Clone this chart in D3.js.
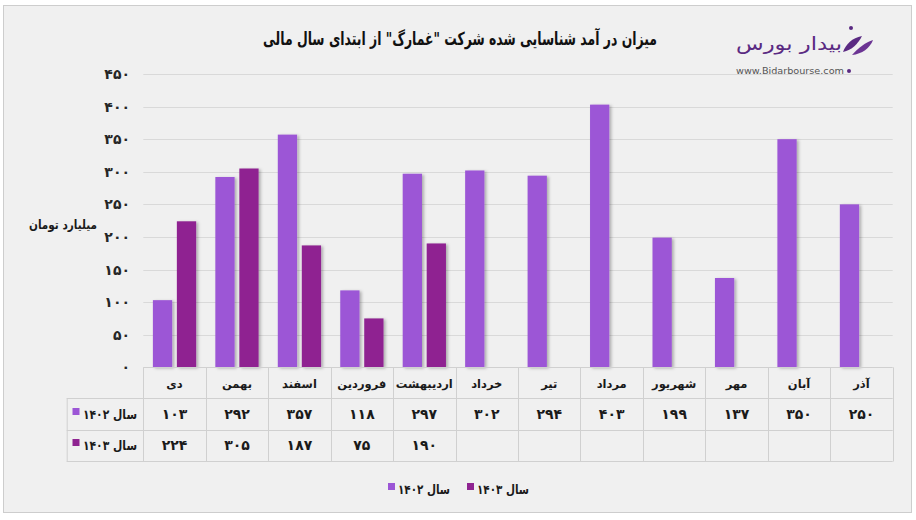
<!DOCTYPE html>
<html><head><meta charset="utf-8">
<script src="https://cdn.jsdelivr.net/npm/d3@7"></script>
<style>
html,body{margin:0;padding:0;background:#fff;}
text{font-family:"DejaVu Sans",sans-serif;font-weight:bold;}
</style></head>
<body>
<svg id="c" width="916" height="520"></svg>
<script>
const months = ["دی","بهمن","اسفند","فروردین","اردیبهشت","خرداد","تیر","مرداد","شهریور","مهر","آبان","آذر"];
const series = ["سال ۱۴۰۲","سال ۱۴۰۳"];
const values1402 = [103,292,357,118,297,302,294,403,199,137,350,250];
const values1403 = [224,305,187,75,190,null,null,null,null,null,null,null];
const yTicks = [0,50,100,150,200,250,300,350,400,450];
const colors = ["#9c56d6","#8f2491"];
const title = "میزان در آمد شناسایی شده شرکت \"غمارگ\" از ابتدای سال مالی";
const yLabel = "میلیارد تومان";

const fa = n => String(n).replace(/[0-9]/g, d => "۰۱۲۳۴۵۶۷۸۹"[d]);

const svg = d3.select("#c");
const defs = svg.append("defs");
const f = defs.append("filter").attr("id","sh").attr("x","-20%").attr("y","-5%").attr("width","150%").attr("height","115%");
f.append("feDropShadow").attr("dx",2).attr("dy",1).attr("stdDeviation",1.5).attr("flood-color","#000").attr("flood-opacity",0.28);

svg.append("rect").attr("x",3.5).attr("y",5.5).attr("width",908).attr("height",507)
  .attr("fill","#f0f0f0").attr("stroke","#cdcdcd");

const left = 143.3, right = 892.7, y0 = 367.3, yTop = 74;
const x = d3.scaleBand().domain(months).range([left,right]).padding(0);
const xs = d3.scaleBand().domain([0,1]).range([0,x.bandwidth()]).paddingInner(0.196).paddingOuter(0.4);
const y = d3.scaleLinear().domain([0,450]).range([y0,yTop]);

// gridlines
svg.append("g").selectAll("line").data(yTicks.filter(t=>t>0)).join("line")
  .attr("x1",left).attr("x2",right).attr("y1",d=>Math.round(y(d))+0.5).attr("y2",d=>Math.round(y(d))+0.5)
  .attr("stroke","#d9d9d9");

// y tick labels
svg.append("g").selectAll("text").data(yTicks).join("text")
  .attr("x",130).attr("y",d=>y(d)+5).attr("text-anchor","end")
  .attr("font-size",14).attr("fill","#262626").text(d=>fa(d));

svg.append("text").attr("x",97).attr("y",229).attr("text-anchor","end")
  .attr("font-size",12.5).attr("fill","#1a1a1a").attr("textLength",68).attr("lengthAdjust","spacingAndGlyphs").text(yLabel);

// bars
const all = [values1402, values1403];
all.forEach((vals,si)=>{
  svg.append("g").attr("filter","url(#sh)").selectAll("rect")
    .data(months.map((m,i)=>({m,v:vals[i]})).filter(d=>d.v!=null)).join("rect")
    .attr("x",d=>x(d.m)+xs(si)).attr("width",xs.bandwidth())
    .attr("y",d=>y(d.v)).attr("height",d=>y0-y(d.v))
    .attr("fill",colors[si]);
});

// table
const tg = svg.append("g").attr("stroke","#d0d0d0").attr("fill","none");
const labL = 66.7;
tg.append("line").attr("x1",left).attr("x2",right).attr("y1",367.5).attr("y2",367.5);
[398.5,430.5,461.5].forEach(yy=>tg.append("line").attr("x1",labL).attr("x2",right).attr("y1",yy).attr("y2",yy));
const vx = months.map(m=>x(m)).concat([right]);
vx.forEach(xx=>tg.append("line").attr("x1",Math.round(xx)+0.5).attr("x2",Math.round(xx)+0.5).attr("y1",367.3).attr("y2",461.5));
tg.append("line").attr("x1",labL+0.5).attr("x2",labL+0.5).attr("y1",398.3).attr("y2",461.5);

// header months
svg.append("g").selectAll("text").data(months).join("text")
  .attr("x",d=>x(d)+x.bandwidth()/2).attr("y",388).attr("text-anchor","middle")
  .attr("font-size",11.5).attr("fill","#1a1a1a").text(d=>d);

all.forEach((vals,si)=>{
  const cy = [419,450][si];
  svg.append("g").selectAll("text").data(months.map((m,i)=>({m,v:vals[i]})).filter(d=>d.v!=null)).join("text")
    .attr("x",d=>x(d.m)+x.bandwidth()/2).attr("y",cy).attr("text-anchor","middle")
    .attr("font-size",14).attr("fill","#1a1a1a").text(d=>fa(d.v));
  svg.append("rect").attr("x",72.5).attr("y",cy-11).attr("width",7).attr("height",7).attr("fill",colors[si]);
  svg.append("text").attr("x",137).attr("y",cy).attr("text-anchor","end")
    .attr("font-size",13).attr("fill","#1a1a1a").attr("textLength",54).attr("lengthAdjust","spacingAndGlyphs").text(series[si]);
});

// legend
const lg = svg.append("g");
[[388,0],[467,1]].forEach(([lx,si])=>{
  lg.append("rect").attr("x",lx).attr("y",483).attr("width",7).attr("height",7).attr("fill",colors[si]);
  lg.append("text").attr("x",lx+62).attr("y",494).attr("text-anchor","end")
    .attr("font-size",13).attr("fill","#1a1a1a").attr("textLength",52).attr("lengthAdjust","spacingAndGlyphs").text(series[si]);
});

// title
svg.append("text").attr("x",460).attr("y",45).attr("text-anchor","middle")
  .attr("font-size",18).attr("fill","#111").attr("textLength",394).attr("lengthAdjust","spacingAndGlyphs").text(title);

// logo
const logo = svg.append("g");
logo.append("text").attr("x",842).attr("y",50).attr("text-anchor","end")
  .attr("font-size",18).style("font-weight","normal").attr("fill","#5a2a82")
  .attr("textLength",106).attr("lengthAdjust","spacingAndGlyphs").text("بیدار بورس");
logo.append("text").attr("x",736).attr("y",74).attr("font-size",9.5).style("font-weight","normal")
  .attr("fill","#555").attr("textLength",108).attr("lengthAdjust","spacingAndGlyphs").text("www.Bidarbourse.com");
logo.append("circle").attr("cx",849).attr("cy",71).attr("r",2).attr("fill","#5a2a82");
logo.append("circle").attr("cx",851).attr("cy",28).attr("r",2).attr("fill","#5a2a82");
logo.append("path").attr("d","M843,52 C846,44 852,38 862,36 C858,44 852,50 843,52 Z").attr("fill","#5a2a82");
logo.append("path").attr("d","M852,55 C858,48 866,42 873,40 C870,48 862,54 852,55 Z").attr("fill","#6b3493");
</script>
</body></html>
